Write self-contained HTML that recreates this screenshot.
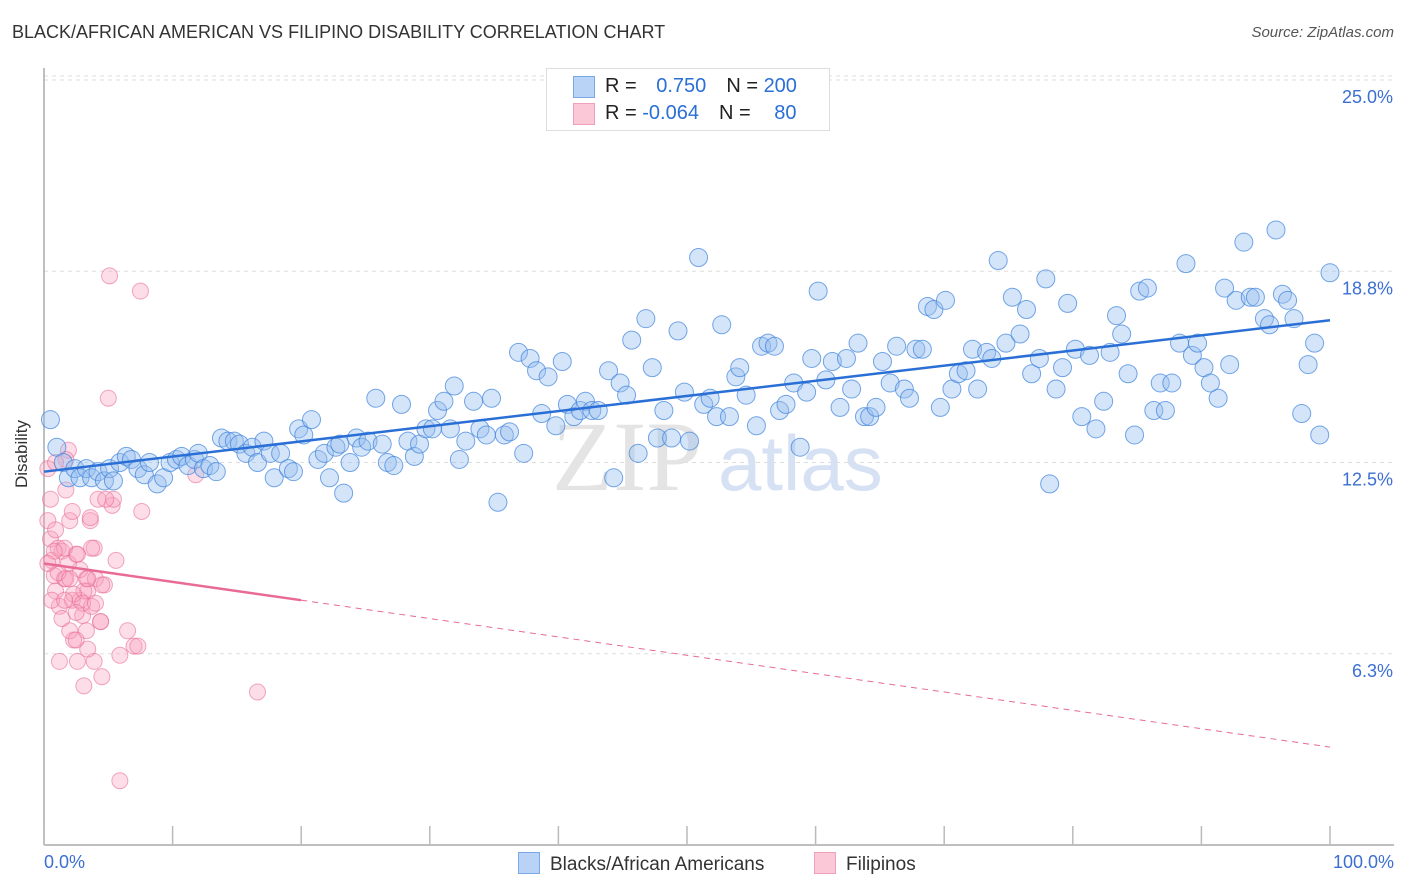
<!DOCTYPE html>
<html><head><meta charset="utf-8">
<style>
body{margin:0;background:#fff;font-family:"Liberation Sans",sans-serif;}
#wrap{position:relative;width:1406px;height:892px;overflow:hidden;}
.t{position:absolute;white-space:nowrap;}
</style></head>
<body>
<div id="wrap">
<div class="t" style="left:12px;top:22px;font-size:18px;color:#333;">BLACK/AFRICAN AMERICAN VS FILIPINO DISABILITY CORRELATION CHART</div>
<div class="t" style="right:12px;top:24px;font-size:15px;color:#555;font-style:italic;">Source: ZipAtlas.com</div>
<svg id="svg" width="1406" height="892" style="position:absolute;left:0;top:0"></svg>
</div>
<script>
const yTicks=[6.25,12.5,18.75,25];
const yTickLabels=["6.3%","12.5%","18.8%","25.0%"];
const blueX=[0.5,1.0,1.5,1.9,2.4,2.8,3.3,3.7,4.2,4.7,5.1,5.4,5.9,6.4,6.8,7.3,7.8,8.2,8.8,9.3,9.8,10.3,10.7,11.2,11.7,12.0,12.4,12.9,13.4,13.8,14.3,14.8,15.2,15.7,16.2,16.6,17.1,17.6,17.9,18.4,19.0,19.4,19.8,20.2,20.8,21.3,21.8,22.2,22.7,23.0,23.3,23.8,24.3,24.7,25.2,25.8,26.3,26.7,27.2,27.8,28.3,28.8,29.2,29.7,30.2,30.6,31.1,31.6,31.9,32.3,32.8,33.4,33.9,34.4,34.8,35.3,35.8,36.2,36.9,37.3,37.8,38.3,38.7,39.2,39.8,40.3,40.7,41.2,41.7,42.1,42.6,43.1,43.9,44.3,44.8,45.3,45.7,46.2,46.8,47.3,47.7,48.2,48.8,49.3,49.8,50.2,50.9,51.3,51.8,52.3,52.7,53.3,53.8,54.1,54.6,55.4,55.8,56.3,56.8,57.2,57.7,58.3,58.8,59.3,59.7,60.2,60.8,61.3,61.9,62.4,62.8,63.3,63.8,64.2,64.7,65.2,65.8,66.3,66.9,67.3,67.8,68.3,68.7,69.2,69.7,70.1,70.6,71.1,71.7,72.2,72.6,73.3,73.7,74.2,74.8,75.3,75.9,76.4,76.8,77.4,77.9,78.2,78.7,79.2,79.6,80.2,80.7,81.3,81.8,82.4,82.9,83.4,83.8,84.3,84.8,85.2,85.8,86.3,86.8,87.2,87.7,88.3,88.8,89.3,89.7,90.2,90.7,91.3,91.8,92.2,92.7,93.3,93.8,94.2,94.9,95.3,95.8,96.3,96.7,97.2,97.8,98.3,98.8,99.2,100];
const blueY=[13.9,13.0,12.5,12.0,12.3,12.0,12.3,12.0,12.2,11.9,12.3,11.9,12.5,12.7,12.6,12.3,12.1,12.5,11.8,12.0,12.5,12.6,12.7,12.4,12.6,12.8,12.3,12.4,12.2,13.3,13.2,13.2,13.1,12.8,13.0,12.5,13.2,12.8,12.0,12.8,12.3,12.2,13.6,13.4,13.9,12.6,12.8,12.0,13.0,13.1,11.5,12.5,13.3,13.0,13.2,14.6,13.1,12.5,12.4,14.4,13.2,12.7,13.1,13.6,13.6,14.2,14.5,13.6,15.0,12.6,13.2,14.5,13.6,13.4,14.6,11.2,13.4,13.5,16.1,12.8,15.9,15.5,14.1,15.3,13.7,15.8,14.4,14.0,14.2,14.5,14.2,14.2,15.5,12.0,15.1,14.7,16.5,12.8,17.2,15.6,13.3,14.2,13.3,16.8,14.8,13.2,19.2,14.4,14.6,14.0,17.0,14.0,15.3,15.6,14.7,13.7,16.3,16.4,16.3,14.2,14.4,15.1,13.0,14.8,15.9,18.1,15.2,15.8,14.3,15.9,14.9,16.4,14.0,14.0,14.3,15.8,15.1,16.3,14.9,14.6,16.2,16.2,17.6,17.5,14.3,17.8,14.9,15.4,15.5,16.2,14.9,16.1,15.9,19.1,16.4,17.9,16.7,17.5,15.4,15.9,18.5,11.8,14.9,15.6,17.7,16.2,14.0,16.0,13.6,14.5,16.1,17.3,16.7,15.4,13.4,18.1,18.2,14.2,15.1,14.2,15.1,16.4,19.0,16.0,16.4,15.6,15.1,14.6,18.2,15.7,17.8,19.7,17.9,17.9,17.2,17.0,20.1,18.0,17.8,17.2,14.1,15.7,16.4,13.4,18.7];
const pinkX=[0.3,0.3,0.5,0.6,0.8,0.9,1.1,1.2,1.4,1.6,1.7,1.9,2.0,2.2,2.3,2.5,2.6,2.8,3.0,3.1,3.3,3.4,3.6,3.7,3.9,4.0,4.2,4.4,4.5,4.7,5.0,5.1,5.3,5.4,5.6,5.9,6.5,7.0,7.3,7.5,7.6,5.9,16.6,11.8,3.6,2.2,1.6,0.9,0.5,1.2,2.0,2.8,3.3,3.9,4.4,1.7,0.6,2.5,3.1,1.4,1.9,1.1,2.3,3.4,3.7,4.5,2.6,0.8,1.6,3.0,4.0,0.3,4.8,1.7,2.0,2.5,3.4,0.9];
const pinkY=[12.3,10.6,10.0,9.3,8.8,8.3,9.7,7.8,9.6,8.7,11.6,12.9,10.6,8.0,6.7,9.5,6.0,8.0,7.5,5.2,8.7,8.3,10.6,7.8,6.0,8.7,11.3,7.3,5.5,8.5,14.6,18.6,11.1,11.3,9.3,6.2,7.0,6.5,6.5,18.1,10.9,2.1,5.0,12.1,10.7,10.9,9.7,10.3,11.3,6.0,7.0,9.0,7.0,9.7,7.3,8.7,8.0,6.7,8.3,7.4,9.2,8.9,8.2,8.7,9.7,8.5,9.5,9.6,8.0,7.9,7.9,9.2,11.3,12.6,8.7,7.6,6.4,12.5];
const xTicks=[0,10,20,30,40,50,60,70,80,90,100];
const X=v=>44+v*12.86;
const Y=v=>845-v*30.6;
const NS="http://www.w3.org/2000/svg";
const svg=document.getElementById('svg');
function mk(tag,attrs,parent){const e=document.createElementNS(NS,tag);for(const k in attrs)e.setAttribute(k,attrs[k]);(parent||svg).appendChild(e);return e;}
// gridlines
yTicks.forEach((t,i)=>{
 const g=mk('line',{x1:44,x2:1394,y1:Y(t),y2:Y(t),stroke:'#dddddd','stroke-dasharray':'4,4'});
 
 
 const l=mk('text',{x:1393,y:Y(t)+23,'text-anchor':'end','font-size':18,fill:'#3b6fd1','font-family':'Liberation Sans, sans-serif'});
 l.textContent=yTickLabels[i];
 
 
});
mk('line',{x1:44,x2:1394,y1:Y(25)-4,y2:Y(25)-4,stroke:'#dddddd','stroke-dasharray':'4,4'});
// watermark
const wm=mk('text',{x:552,y:490,'font-size':100,fill:'#e4e4e4','font-family':'Liberation Serif, serif'});
wm.textContent='ZIP';


const wm2=mk('text',{x:718,y:490,'font-size':78,fill:'#d6e2f4','font-family':'Liberation Sans, sans-serif'});
wm2.textContent='atlas';


// axes
const ya=mk('line',{x1:44,x2:44,y1:68,y2:845,stroke:'#aaaaaa','stroke-width':1.5});


const xa=mk('line',{x1:44,x2:1394,y1:845,y2:845,stroke:'#aaaaaa','stroke-width':1.5});


xTicks.forEach(t=>{
 const tk=mk('line',{x1:X(t),x2:X(t),y1:826,y2:845,stroke:'#bbbbbb','stroke-width':1.5});
 
 
});
// points
pinkX.forEach((v,i)=>{
 const c=mk('circle',{cx:X(v),cy:Y(pinkY[i]),r:8,fill:'rgba(248,160,188,0.35)',stroke:'rgba(232,110,150,0.6)','stroke-width':1});
 
 
});
blueX.forEach((v,i)=>{
 const c=mk('circle',{cx:X(v),cy:Y(blueY[i]),r:9,fill:'rgba(150,190,240,0.4)',stroke:'rgba(60,130,220,0.7)','stroke-width':1});
 
 
});
// trend lines
const bt=mk('line',{x1:X(0),y1:Y(12.2),x2:X(100),y2:Y(17.15),stroke:'#2a6fd6','stroke-width':2.5});


const pt=mk('line',{x1:X(0),y1:Y(9.2),x2:X(20),y2:Y(8.0),stroke:'#e86a95','stroke-width':2.5});


const pd=mk('line',{x1:X(20),y1:Y(8.0),x2:X(100),y2:Y(3.2),stroke:'#e86a95','stroke-width':1,'stroke-dasharray':'6,5'});


</script>
<div class="t" style="left:44px;top:852px;font-size:18px;color:#3b6fd1;">0.0%</div>
<div class="t" style="right:12px;top:852px;font-size:18px;color:#3b6fd1;">100.0%</div>
<div class="t" style="left:-12px;top:444px;font-size:17px;color:#333;transform:rotate(-90deg);">Disability</div>
<div style="position:absolute;left:546px;top:68px;width:282px;height:61px;border:1px solid #ddd;background:#fff;font-size:20px;">
 <div style="position:absolute;left:26px;top:7px;width:20px;height:20px;background:#b8d3f5;border:1px solid #7aa8e6;"></div>
 <div class="t" style="left:58px;top:6px;color:#222;">R = <span style="color:#2a6fd6;margin-left:14px">0.750</span><span style="margin-left:20px">N = </span><span style="color:#2a6fd6">200</span></div>
 <div style="position:absolute;left:26px;top:34px;width:20px;height:20px;background:#fbc8d8;border:1px solid #f0a0bb;"></div>
 <div class="t" style="left:58px;top:33px;color:#222;">R = <span style="color:#2a6fd6;">-0.064</span><span style="margin-left:20px">N = </span><span style="color:#2a6fd6;margin-left:18px">80</span></div>
</div>
<div style="position:absolute;left:518px;top:852px;font-size:19px;color:#333;">
 <div style="position:absolute;left:0;top:0;white-space:nowrap;"><span style="display:inline-block;width:20px;height:20px;background:#b8d3f5;border:1px solid #7aa8e6;vertical-align:-4px;margin-right:10px"></span>Blacks/African Americans</div>
 <div style="position:absolute;left:296px;top:0;white-space:nowrap;"><span style="display:inline-block;width:20px;height:20px;background:#fbc8d8;border:1px solid #f0a0bb;vertical-align:-4px;margin-right:10px"></span>Filipinos</div>
</div>
</body></html>
